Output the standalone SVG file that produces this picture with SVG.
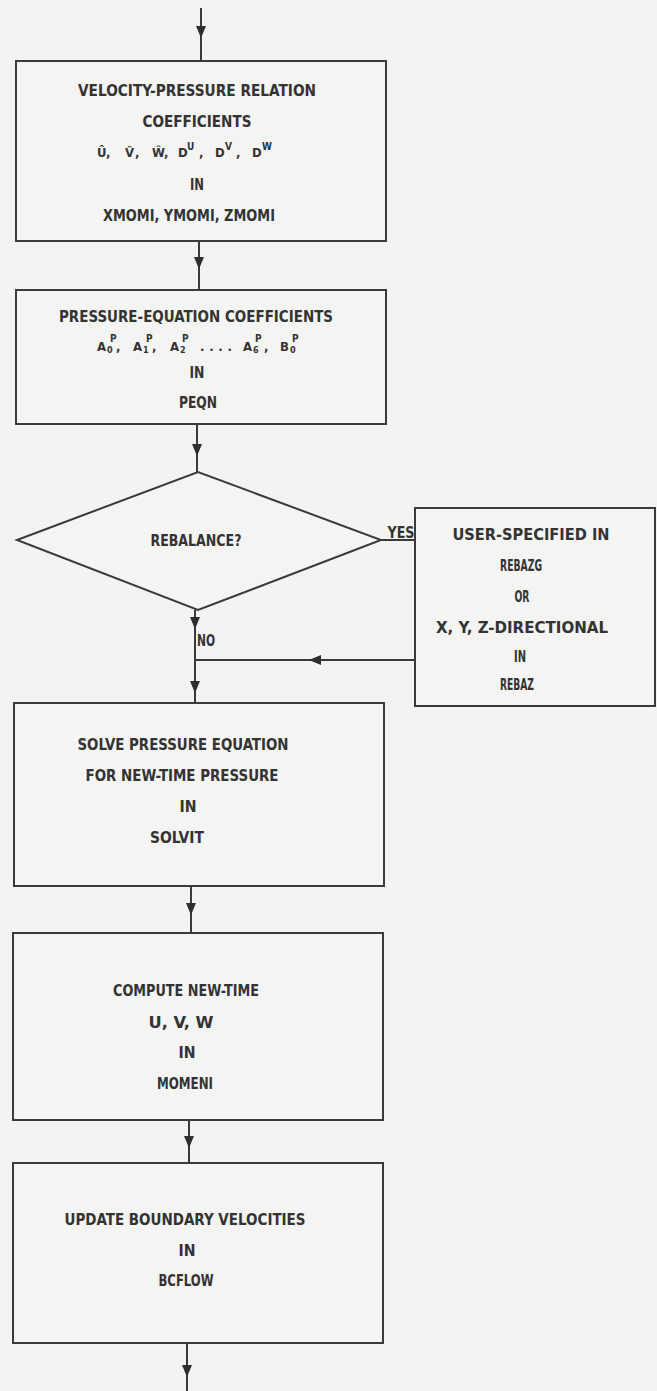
<svg xmlns="http://www.w3.org/2000/svg" xmlns:xlink="http://www.w3.org/1999/xlink" width="657" height="1391" viewBox="0 0 657 1391">
<style>
.bg{fill:#f3f3f1}
.box{fill:#f4f4f2;stroke:#3a3a3a;stroke-width:2}
.ln{fill:none;stroke:#3a3a3a;stroke-width:2}
.ah{fill:#2e2e2e}
.t{font-family:"DejaVu Sans Condensed","DejaVu Sans",sans-serif;font-size:15px;font-weight:bold;fill:#333333;text-anchor:middle}
.m{font-family:"DejaVu Sans Condensed","DejaVu Sans",sans-serif;font-size:13px;font-weight:bold;fill:#333333}
.sp{font-size:10px}
.sb{font-size:9px}
</style>
<defs>
<path id="ahd" d="M-5,-12 L5,-12 L0,0 Z"/>
</defs>
<rect class="bg" x="0" y="0" width="657" height="1391"/>

<g id="connectors">
<line class="ln" x1="201" y1="8" x2="201" y2="61"/>
<use href="#ahd" class="ah" x="201" y="38"/>
<line class="ln" x1="199" y1="241" x2="199" y2="290"/>
<use href="#ahd" class="ah" x="199" y="269"/>
<line class="ln" x1="197" y1="424" x2="197" y2="472"/>
<use href="#ahd" class="ah" x="197" y="456"/>
<line class="ln" x1="195" y1="610" x2="195" y2="703"/>
<use href="#ahd" class="ah" x="195" y="629"/>
<use href="#ahd" class="ah" x="195" y="693"/>
<line class="ln" x1="381" y1="540" x2="415" y2="540"/>
<line class="ln" x1="415" y1="660" x2="195" y2="660"/>
<use href="#ahd" class="ah" transform="translate(309,660) rotate(90)"/>
<line class="ln" x1="191" y1="886" x2="191" y2="933"/>
<use href="#ahd" class="ah" x="191" y="915"/>
<line class="ln" x1="189" y1="1120" x2="189" y2="1163"/>
<use href="#ahd" class="ah" x="189" y="1148"/>
<line class="ln" x1="187" y1="1343" x2="187" y2="1391"/>
<use href="#ahd" class="ah" x="187" y="1377"/>
<text class="t" x="401" y="538" textLength="27" lengthAdjust="spacingAndGlyphs">YES</text>
<text class="t" x="206" y="646" textLength="18" lengthAdjust="spacingAndGlyphs">NO</text>
</g>

<g id="velocity-pressure">
<rect class="box" x="16" y="61" width="370" height="180"/>
<text class="t" x="197" y="96" textLength="238" lengthAdjust="spacingAndGlyphs">VELOCITY-PRESSURE RELATION</text>
<text class="t" x="197" y="127" textLength="109" lengthAdjust="spacingAndGlyphs">COEFFICIENTS</text>
<text class="m"><tspan x="97" y="157">Û</tspan><tspan x="106" y="157">,</tspan><tspan x="125" y="157">V̂</tspan><tspan x="135" y="157">,</tspan><tspan x="152" y="157">Ŵ</tspan><tspan x="164" y="157">,</tspan><tspan x="178" y="157">D</tspan><tspan class="sp" x="187" y="150">U</tspan><tspan x="199" y="157">,</tspan><tspan x="215" y="157">D</tspan><tspan class="sp" x="225" y="150">V</tspan><tspan x="236" y="157">,</tspan><tspan x="252" y="157">D</tspan><tspan class="sp" x="262" y="150">W</tspan></text>
<text class="t" x="197" y="190" textLength="14" lengthAdjust="spacingAndGlyphs">IN</text>
<text class="t" x="189" y="221" textLength="172" lengthAdjust="spacingAndGlyphs">XMOMI, YMOMI, ZMOMI</text>
</g>

<g id="pressure-equation">
<rect class="box" x="16" y="290" width="370" height="134"/>
<text class="t" x="196" y="322" textLength="274" lengthAdjust="spacingAndGlyphs">PRESSURE-EQUATION COEFFICIENTS</text>
<text class="m"><tspan x="97" y="351">A</tspan><tspan class="sp" x="110" y="342">P</tspan><tspan class="sb" x="107" y="353">0</tspan><tspan x="116" y="351">,</tspan><tspan x="133" y="351">A</tspan><tspan class="sp" x="146" y="342">P</tspan><tspan class="sb" x="143" y="353">1</tspan><tspan x="152" y="351">,</tspan><tspan x="170" y="351">A</tspan><tspan class="sp" x="182" y="342">P</tspan><tspan class="sb" x="180" y="353">2</tspan><tspan x="200" y="351" textLength="32" lengthAdjust="spacing">....</tspan><tspan x="243" y="351">A</tspan><tspan class="sp" x="255" y="342">P</tspan><tspan class="sb" x="253" y="353">6</tspan><tspan x="264" y="351">,</tspan><tspan x="280" y="351">B</tspan><tspan class="sp" x="292" y="342">P</tspan><tspan class="sb" x="290" y="353">0</tspan></text>
<text class="t" x="197" y="378" textLength="15" lengthAdjust="spacingAndGlyphs">IN</text>
<text class="t" x="198" y="408" textLength="38" lengthAdjust="spacingAndGlyphs">PEQN</text>
</g>

<g id="rebalance">
<polygon class="box" points="17,540 198,472 381,540 198,610"/>
<text class="t" x="196" y="546" textLength="91" lengthAdjust="spacingAndGlyphs">REBALANCE?</text>
</g>

<g id="rebaz">
<rect class="box" x="415" y="508" width="240" height="198"/>
<text class="t" x="531" y="540" textLength="157" lengthAdjust="spacingAndGlyphs">USER-SPECIFIED IN</text>
<text class="t" x="521" y="571" textLength="42" lengthAdjust="spacingAndGlyphs">REBAZG</text>
<text class="t" x="522" y="602" textLength="15" lengthAdjust="spacingAndGlyphs">OR</text>
<text class="t" x="522" y="633" textLength="172" lengthAdjust="spacingAndGlyphs">X, Y, Z-DIRECTIONAL</text>
<text class="t" x="520" y="662" textLength="12" lengthAdjust="spacingAndGlyphs">IN</text>
<text class="t" x="517" y="690" textLength="34" lengthAdjust="spacingAndGlyphs">REBAZ</text>
</g>

<g id="solvit">
<rect class="box" x="14" y="703" width="370" height="183"/>
<text class="t" x="183" y="750" textLength="211" lengthAdjust="spacingAndGlyphs">SOLVE PRESSURE EQUATION</text>
<text class="t" x="182" y="781" textLength="193" lengthAdjust="spacingAndGlyphs">FOR NEW-TIME PRESSURE</text>
<text class="t" x="188" y="812" textLength="17" lengthAdjust="spacingAndGlyphs">IN</text>
<text class="t" x="177" y="843" textLength="54" lengthAdjust="spacingAndGlyphs">SOLVIT</text>
</g>

<g id="momeni">
<rect class="box" x="13" y="933" width="370" height="187"/>
<text class="t" x="186" y="996" textLength="146" lengthAdjust="spacingAndGlyphs">COMPUTE NEW-TIME</text>
<text class="t" x="181" y="1028" textLength="65" lengthAdjust="spacingAndGlyphs">U, V, W</text>
<text class="t" x="187" y="1058" textLength="17" lengthAdjust="spacingAndGlyphs">IN</text>
<text class="t" x="185" y="1089" textLength="56" lengthAdjust="spacingAndGlyphs">MOMENI</text>
</g>

<g id="bcflow">
<rect class="box" x="13" y="1163" width="370" height="180"/>
<text class="t" x="185" y="1225" textLength="241" lengthAdjust="spacingAndGlyphs">UPDATE BOUNDARY VELOCITIES</text>
<text class="t" x="187" y="1256" textLength="17" lengthAdjust="spacingAndGlyphs">IN</text>
<text class="t" x="186" y="1286" textLength="55" lengthAdjust="spacingAndGlyphs">BCFLOW</text>
</g>
</svg>
